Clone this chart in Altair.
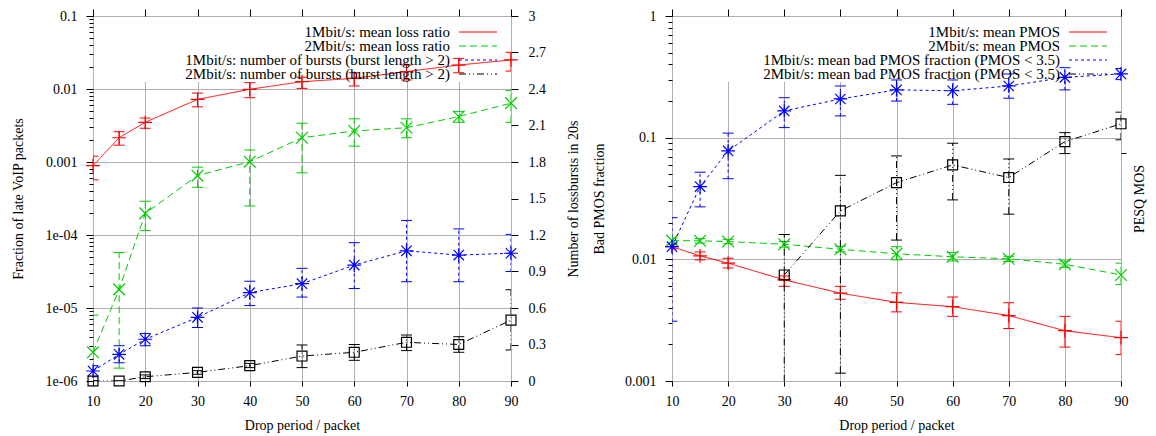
import altair as alt
import pandas as pd

FONT = "Liberation Serif"

# ---------------- data ----------------
X = [10, 15, 20, 30, 40, 50, 60, 70, 80, 90]
X_TICKS = [10, 20, 30, 40, 50, 60, 70, 80, 90]

# left panel: fraction of late VoIP packets (log axis)
loss_1m = [0.00089, 0.00215, 0.0035, 0.0072, 0.0099, 0.0126, 0.014, 0.0173, 0.0213, 0.025]
loss_1m_lo = [0.00057, 0.0017, 0.0029, 0.0057, 0.0076, 0.0102, 0.011, 0.0133, 0.0167, 0.0176]
loss_1m_hi = [0.0012, 0.0026, 0.004, 0.0088, 0.0122, 0.0145, 0.0167, 0.0213, 0.0263, 0.0318]

loss_2m = [2.47e-6, 1.8e-5, 1.98e-4, 6.5e-4, 0.00101, 0.00215, 0.00266, 0.00295, 0.0042, 0.0064]
loss_2m_lo = [5e-7, 1.5e-6, 1.15e-4, 4.5e-4, 2.5e-4, 7.1e-4, 0.00165, 0.00215, 0.0035, 0.0035]
loss_2m_hi = [8e-6, 5.75e-5, 2.9e-4, 8.5e-4, 0.00146, 0.0034, 0.0039, 0.0039, 0.0049, 0.0095]

# left panel: number of loss bursts (right linear axis)
bursts_1m = [0.082, 0.219, 0.343, 0.523, 0.726, 0.80, 0.953, 1.07, 1.035, 1.05]
bursts_1m_lo = [0.035, 0.15, 0.29, 0.44, 0.62, 0.69, 0.76, 0.816, 0.816, 0.9]
bursts_1m_hi = [0.126, 0.29, 0.39, 0.60, 0.82, 0.926, 1.137, 1.32, 1.25, 1.205]

bursts_2m = [0.0, 0.0, 0.035, 0.071, 0.126, 0.205, 0.236, 0.318, 0.30, 0.50]
bursts_2m_lo = [0.0, 0.0, 0.02, 0.055, 0.11, 0.11, 0.17, 0.25, 0.236, 0.255]
bursts_2m_hi = [0.0, 0.0, 0.05, 0.085, 0.145, 0.296, 0.30, 0.378, 0.364, 0.75]

# right panel (log axis)
pmos_1m = [0.0127, 0.01067, 0.0093, 0.00678, 0.00527, 0.00443, 0.00408, 0.00345, 0.00259, 0.00227]
pmos_1m_lo = [0.0122, 0.0099, 0.0085, 0.006, 0.0047, 0.0037, 0.0034, 0.0027, 0.0019, 0.00165]
pmos_1m_hi = [0.0132, 0.0115, 0.0102, 0.0073, 0.006, 0.0053, 0.0049, 0.0044, 0.0034, 0.0031]

pmos_2m = [0.01425, 0.0142, 0.014, 0.0133, 0.0121, 0.0111, 0.0105, 0.0101, 0.0091, 0.00744]
pmos_2m_lo = [0.0135, 0.0136, 0.0134, 0.0126, 0.0115, 0.0099, 0.0097, 0.0096, 0.0086, 0.0062]
pmos_2m_hi = [0.015, 0.0148, 0.0146, 0.014, 0.0128, 0.0127, 0.0114, 0.0106, 0.0097, 0.0093]

bad_1m = [0.0127, 0.0396, 0.0778, 0.166, 0.208, 0.247, 0.243, 0.266, 0.313, 0.334]
bad_1m_lo = [0.0031, 0.027, 0.046, 0.121, 0.151, 0.2, 0.188, 0.211, 0.247, 0.30]
bad_1m_hi = [0.022, 0.052, 0.109, 0.213, 0.266, 0.298, 0.298, 0.334, 0.376, 0.37]

bad_2m = [None, None, None, 0.00744, 0.025, 0.0427, 0.0597, 0.047, 0.0927, 0.13]
bad_2m_lo = [None, None, None, 0.0005, 0.00116, 0.0144, 0.0308, 0.0235, 0.074, 0.096]
bad_2m_hi = [None, None, None, 0.016, 0.049, 0.0708, 0.09, 0.0668, 0.11, 0.162]

LEFT_LABELS = [
    "1Mbit/s: mean loss ratio",
    "2Mbit/s: mean loss ratio",
    "1Mbit/s: number of bursts (burst length > 2)",
    "2Mbit/s: number of bursts (burst length > 2)",
]
RIGHT_LABELS = [
    "1Mbit/s: mean PMOS",
    "2Mbit/s: mean PMOS",
    "1Mbit/s: mean bad PMOS fraction (PMOS < 3.5)",
    "2Mbit/s: mean bad PMOS fraction (PMOS < 3.5)",
]

BURST_TICKS = [0, 0.3, 0.6, 0.9, 1.2, 1.5, 1.8, 2.1, 2.4, 2.7, 3.0]
LEFT_DECADES = [-6, -5, -4, -3, -2, -1]
RIGHT_DECADES = [-3, -2, -1, 0]
PESQ_TICKS = [3.5]

# ---------------- styles ----------------
KEYS = ["s1", "s2", "s3", "s4"]
COLORS = ["#ff0000", "#00cc00", "#0000ff", "#000000"]
DASHES = [[1, 0], [7, 4], [3, 3], [7, 3, 1, 3, 1, 3]]
SHAPES = [
    "M-1,0H1M0,-1V1",
    "M-0.85,-0.85L0.85,0.85M-0.85,0.85L0.85,-0.85",
    "M-1,0H1M0,-1V1M-0.75,-0.75L0.75,0.75M-0.75,0.75L0.75,-0.75",
    "M-0.72,-0.72H0.72V0.72H-0.72Z",
]
COLOR = alt.Color("key:N", scale=alt.Scale(domain=KEYS, range=COLORS), legend=None)
DASH = alt.StrokeDash("key:N", scale=alt.Scale(domain=KEYS, range=DASHES), legend=None)
SHAPE = alt.Shape("key:N", scale=alt.Scale(domain=KEYS, range=SHAPES), legend=None)

H = 365
W_L = 418
W_R = 449

MAJOR_TEST = "abs(log(datum.value)/LN10 - round(log(datum.value)/LN10)) < 0.001"


def xs():
    return alt.Scale(domain=[10, 90], nice=False, zero=False)


def log_ticks(decades):
    vals = []
    for d in decades:
        vals.append(10.0 ** d)
        if d != decades[-1]:
            for m in range(2, 10):
                vals.append(m * 10.0 ** d)
    return vals


def log_axis(decades, title, title_pad):
    return alt.Axis(
        values=log_ticks(decades),
        title=title,
        orient="left",
        grid=True,
        gridOpacity={"condition": {"test": MAJOR_TEST, "value": 1}, "value": 0},
        tickSize={"condition": {"test": MAJOR_TEST, "value": 7}, "value": 4},
        labelExpr=(
            "(" + MAJOR_TEST + ") ? (datum.value < 0.0005 ? "
            "replace(format(datum.value, '.0e'), 'e-', 'e-0') : format(datum.value, '~g')) : ''"
        ),
        labelPadding=9,
        labelFlush=False,
        labelOverlap=False,
        titlePadding=title_pad,
    )


BOTTOM_AXIS = alt.Axis(values=X_TICKS, title="Drop period / packet", grid=True, tickSize=5,
                       labelPadding=8, titlePadding=10, orient="bottom", labelFlush=False)
TOP_AXIS = alt.Axis(orient="top", values=X_TICKS, labels=False, title=None, grid=False, tickSize=7)


def frame(key, y, lo, hi):
    rows = [dict(x=a, y=b, lo=c, hi=d, key=key)
            for a, b, c, d in zip(X, y, lo, hi) if b is not None]
    return pd.DataFrame(rows)


def series(df, yscale):
    base = alt.Chart(df)
    xn = alt.X("x:Q", scale=xs(), axis=None)
    line = base.mark_line(strokeWidth=1, clip=True).encode(
        x=xn, y=alt.Y("y:Q", scale=yscale, axis=None), color=COLOR, strokeDash=DASH)
    bars = base.mark_rule(strokeWidth=1, clip=True).encode(
        x=xn, y=alt.Y("lo:Q", scale=yscale, axis=None), y2="hi:Q", color=COLOR, strokeDash=DASH)
    cap_lo = base.mark_tick(orient="horizontal", size=11, thickness=1, opacity=1, clip=True).encode(
        x=xn, y=alt.Y("lo:Q", scale=yscale, axis=None), color=COLOR)
    cap_hi = base.mark_tick(orient="horizontal", size=11, thickness=1, opacity=1, clip=True).encode(
        x=xn, y=alt.Y("hi:Q", scale=yscale, axis=None), color=COLOR)
    pts = base.mark_point(filled=False, size=190, strokeWidth=1.2, opacity=1).encode(
        x=xn, y=alt.Y("y:Q", scale=yscale, axis=None), color=COLOR, shape=SHAPE)
    return [line, bars, cap_lo, cap_hi, pts]


def axis_holder(yscale, yaxis, xaxis, yvals):
    df = pd.DataFrame({"x": [10] * len(yvals), "v": yvals})
    enc = {"y": alt.Y("v:Q", scale=yscale, axis=yaxis)}
    if xaxis is not None:
        enc["x"] = alt.X("x:Q", scale=xs(), axis=xaxis)
    return alt.Chart(df).mark_tick(opacity=0).encode(**enc)


def key_box(w):
    return alt.Chart(pd.DataFrame({"a": [0]})).mark_rect(color="white").encode(
        x=alt.value(1), x2=alt.value(w - 1), y=alt.value(1), y2=alt.value(66))


def legend(w, labels):
    df = pd.DataFrame({"row": [0, 1, 2, 3], "key": KEYS, "label": labels})
    ys = alt.Scale(domain=[0, 3], range=[16, 58])
    txt = alt.Chart(df).mark_text(align="right", baseline="middle", font=FONT, fontSize=15,
                                  color="black").encode(
        x=alt.value(w - 61), y=alt.Y("row:Q", scale=ys, axis=None), text="label:N")
    smp = alt.Chart(df).mark_rule(strokeWidth=1).encode(
        x=alt.value(w - 52), x2=alt.value(w - 14), y=alt.Y("row:Q", scale=ys, axis=None),
        color=COLOR, strokeDash=DASH)
    return [txt, smp]


# ---------------- left panel ----------------
def lscale():
    return alt.Scale(type="log", domain=[1e-6, 0.1], nice=False)


def bscale():
    return alt.Scale(domain=[0, 3], nice=False, zero=False)


burst_axis = alt.Axis(orient="right", values=BURST_TICKS, format=".1~f", grid=False, tickSize=7,
                      labelPadding=10, title="Number of lossbursts in 20s", titleAngle=270,
                      titleBaseline="top", titlePadding=21)

left = alt.layer(
    axis_holder(lscale(), log_axis(LEFT_DECADES, "Fraction of late VoIP packets", 20),
                BOTTOM_AXIS, [1e-6, 0.1]),
    axis_holder(bscale(), burst_axis, TOP_AXIS, [0, 3]),
    key_box(W_L),
    *series(frame("s1", loss_1m, loss_1m_lo, loss_1m_hi), lscale()),
    *series(frame("s2", loss_2m, loss_2m_lo, loss_2m_hi), lscale()),
    *series(frame("s3", bursts_1m, bursts_1m_lo, bursts_1m_hi), bscale()),
    *series(frame("s4", bursts_2m, bursts_2m_lo, bursts_2m_hi), bscale()),
    *legend(W_L, LEFT_LABELS),
).resolve_scale(x="independent", y="independent").properties(width=W_L, height=H)

# ---------------- right panel ----------------
def rscale():
    return alt.Scale(type="log", domain=[0.001, 1], nice=False)


pesq_axis = alt.Axis(orient="right", values=PESQ_TICKS, labels=False, tickSize=5, grid=False,
                     title="PESQ MOS", titleAngle=270, titleBaseline="top", titlePadding=6)

right = alt.layer(
    axis_holder(rscale(), log_axis(RIGHT_DECADES, "Bad PMOS fraction", 18), BOTTOM_AXIS, [0.001, 1]),
    axis_holder(alt.Scale(domain=[1, 5], nice=False, zero=False), pesq_axis, TOP_AXIS, PESQ_TICKS),
    key_box(W_R),
    *series(frame("s1", pmos_1m, pmos_1m_lo, pmos_1m_hi), rscale()),
    *series(frame("s2", pmos_2m, pmos_2m_lo, pmos_2m_hi), rscale()),
    *series(frame("s3", bad_1m, bad_1m_lo, bad_1m_hi), rscale()),
    *series(frame("s4", bad_2m, bad_2m_lo, bad_2m_hi), rscale()),
    *legend(W_R, RIGHT_LABELS),
).resolve_scale(x="independent", y="independent").properties(width=W_R, height=H)

chart = alt.hconcat(left, right, spacing=11).properties(
    padding={"left": 10, "top": 8, "right": 0, "bottom": 0}
).configure_view(stroke="black", strokeWidth=1).configure_axis(
    labelFont=FONT, titleFont=FONT, labelFontSize=14, titleFontSize=14,
    titleFontWeight="normal", labelColor="black", titleColor="black",
    tickColor="black", gridColor="#b0b0b0", gridWidth=1, domain=False,
)

chart.save("out.html", embed_options={"renderer": "svg", "actions": False})
